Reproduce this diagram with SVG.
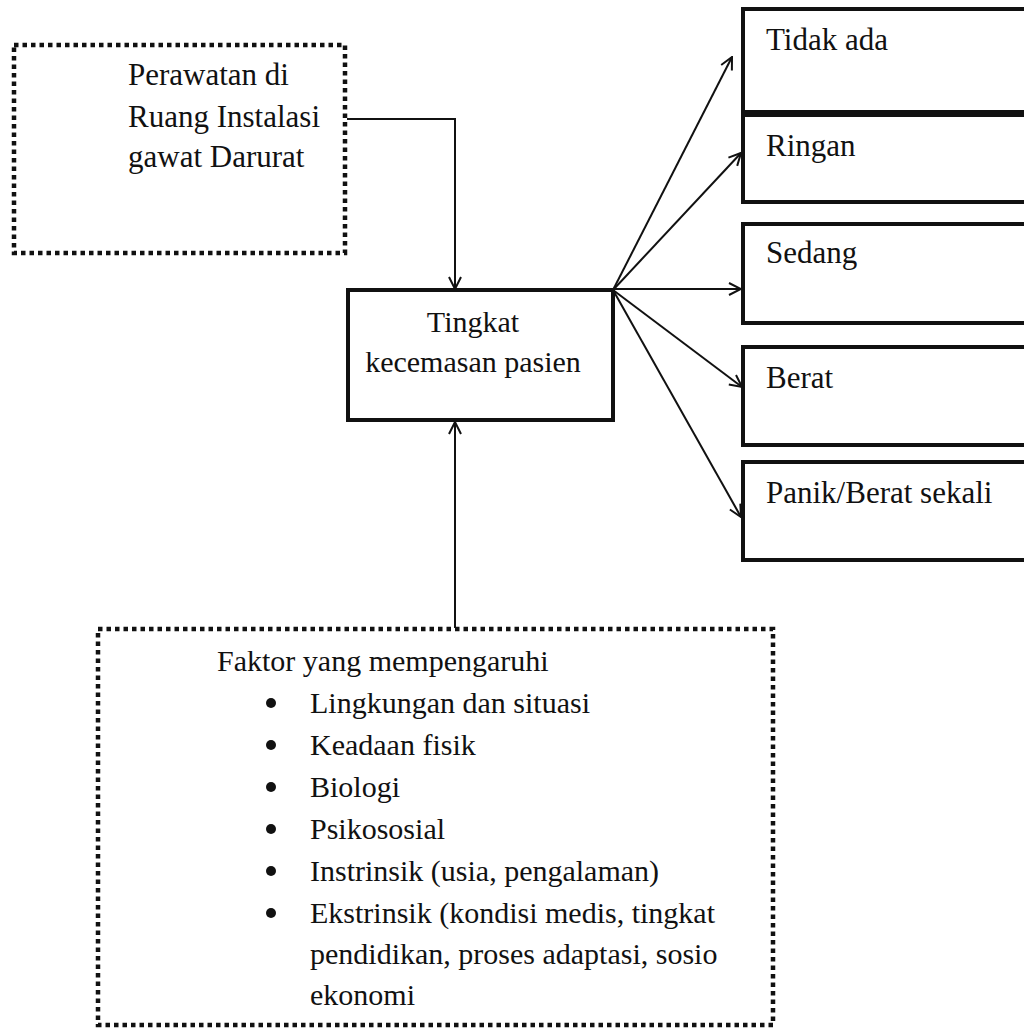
<svg xmlns="http://www.w3.org/2000/svg" width="1024" height="1029" viewBox="0 0 1024 1029">
<style>
  .t { font-family: "Liberation Serif", "Times New Roman", serif; font-size: 30px; fill: #111; }
  .big { font-size: 31px; }
  .dotbox { fill: none; stroke: #111; stroke-width: 4.5; stroke-dasharray: 4.5 4; }
  .box { fill: #fff; stroke: #111; stroke-width: 4; }
  .conn { fill: none; stroke: #111; stroke-width: 2; }
</style>
<defs>
  <marker id="arr" viewBox="0 0 14 14" refX="13" refY="7" markerWidth="14" markerHeight="14" markerUnits="userSpaceOnUse" orient="auto">
    <path d="M1,1 L13,7 L1,13" fill="none" stroke="#111" stroke-width="2"/>
  </marker>
</defs>
<rect width="1024" height="1029" fill="#fff"/>

<g id="connectors">
  <polyline class="conn" points="347,119 455,119 455,289" marker-end="url(#arr)"/>
  <line class="conn" x1="455" y1="628" x2="455" y2="422" marker-end="url(#arr)"/>
  <line class="conn" x1="613" y1="290" x2="732" y2="57" marker-end="url(#arr)"/>
  <line class="conn" x1="613" y1="290" x2="741" y2="153" marker-end="url(#arr)"/>
  <line class="conn" x1="613" y1="289" x2="741" y2="289" marker-end="url(#arr)"/>
  <line class="conn" x1="613" y1="290" x2="742" y2="387" marker-end="url(#arr)"/>
  <line class="conn" x1="613" y1="290" x2="741" y2="517" marker-end="url(#arr)"/>
</g>

<g id="perawatan">
  <rect class="dotbox" x="14" y="45" width="331" height="208"/>
  <text class="t big" x="128" y="85">Perawatan di</text>
  <text class="t big" x="128" y="127">Ruang Instalasi</text>
  <text class="t big" x="128" y="167">gawat Darurat</text>
</g>

<g id="tingkat">
  <rect class="box" x="348" y="290" width="265" height="130"/>
  <text class="t" x="473" y="332" text-anchor="middle">Tingkat</text>
  <text class="t" x="473" y="372" text-anchor="middle">kecemasan pasien</text>
</g>

<g id="tidak-ada">
  <rect class="box" x="743" y="9" width="300" height="103"/>
  <text class="t big" x="766" y="50">Tidak ada</text>
</g>
<g id="ringan">
  <rect class="box" x="743" y="115" width="300" height="87"/>
  <text class="t big" x="766" y="156">Ringan</text>
</g>
<g id="sedang">
  <rect class="box" x="743" y="224" width="300" height="99"/>
  <text class="t big" x="766" y="263">Sedang</text>
</g>
<g id="berat">
  <rect class="box" x="743" y="347" width="300" height="98"/>
  <text class="t big" x="766" y="388">Berat</text>
</g>
<g id="panik">
  <rect class="box" x="743" y="462" width="300" height="98"/>
  <text class="t big" x="766" y="503">Panik/Berat sekali</text>
</g>

<g id="faktor">
  <rect class="dotbox" x="98" y="629" width="675" height="396"/>
  <text class="t" x="217" y="671">Faktor yang mempengaruhi</text>
  <circle cx="271" cy="703" r="5" fill="#111"/>
  <text class="t" x="310" y="713">Lingkungan dan situasi</text>
  <circle cx="271" cy="745" r="5" fill="#111"/>
  <text class="t" x="310" y="755">Keadaan fisik</text>
  <circle cx="271" cy="787" r="5" fill="#111"/>
  <text class="t" x="310" y="797">Biologi</text>
  <circle cx="271" cy="829" r="5" fill="#111"/>
  <text class="t" x="310" y="839">Psikososial</text>
  <circle cx="271" cy="871" r="5" fill="#111"/>
  <text class="t" x="310" y="881">Instrinsik (usia, pengalaman)</text>
  <circle cx="271" cy="913" r="5" fill="#111"/>
  <text class="t" x="310" y="923">Ekstrinsik (kondisi medis, tingkat</text>
  <text class="t" x="310" y="964">pendidikan, proses adaptasi, sosio</text>
  <text class="t" x="310" y="1005">ekonomi</text>
</g>
</svg>
